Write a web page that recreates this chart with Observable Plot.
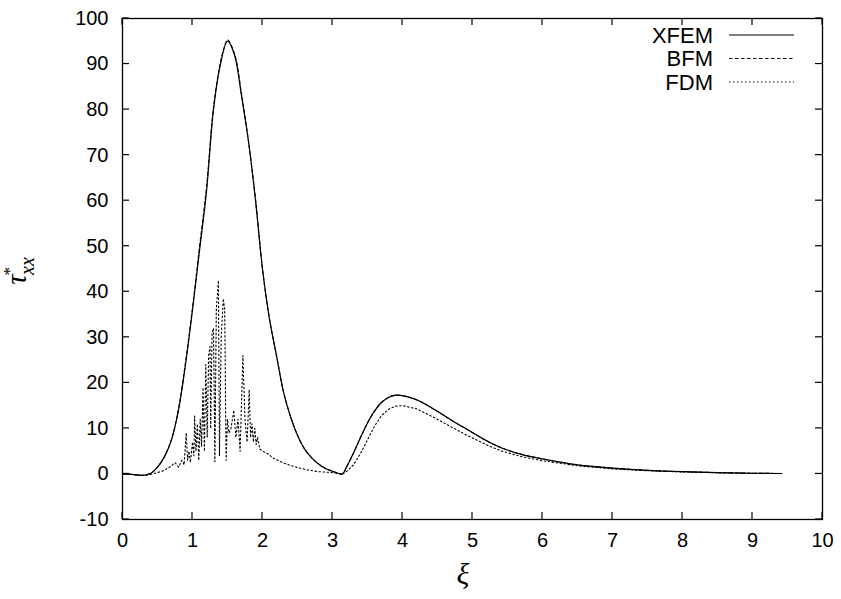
<!DOCTYPE html>
<html><head><meta charset="utf-8">
<script src="https://cdn.jsdelivr.net/npm/d3@7"></script>
<script src="https://cdn.jsdelivr.net/npm/@observablehq/plot@0.6"></script>
<style>body{margin:0;background:#fff}</style>
</head><body><div id="chart"></div>
<script>
const xTicks = [0,1,2,3,4,5,6,7,8,9,10];
const yTicks = [-10,0,10,20,30,40,50,60,70,80,90,100];

const xfemXi = [0,0.1,0.2,0.3,0.4,0.5,0.6,0.7,0.8,0.9,1.0,1.1,1.2,1.3,1.4,1.5,1.6,1.7,1.8,1.9,2.0,2.1,2.2,2.3,2.4,2.5,2.6,2.7,2.8,2.9,3.0,3.14,3.2,3.3,3.4,3.5,3.6,3.7,3.8,3.9,4.0,4.2,4.45,4.7,4.92,5.2,5.4,5.7,6.0,6.5,7.0,7.5,8.0,8.5,9.0,9.42];
const xfemTau = [0,-0.05,-0.2,-0.3,0.1,1.5,3.8,7.5,14,24,36,49,62,80,90,95,92,83,73,60,45,34,26,18,12.6,8.5,5.5,3.6,2.2,1.2,0.6,0,1.5,4.6,8,11.2,13.8,15.7,16.8,17.3,17.2,16.3,14.2,11.8,9.8,7.3,5.8,4.3,3.3,2.0,1.3,0.8,0.5,0.3,0.15,0.1];

const bfmXi = [0,0.1,0.2,0.3,0.4,0.5,0.6,0.7,0.8,0.9,1.0,1.1,1.2,1.3,1.4,1.45,1.5,1.6,1.7,1.8,1.9,2.0,2.1,2.2,2.3,2.4,2.5,2.6,2.7,2.8,2.9,3.0,3.14,3.2,3.3,3.4,3.5,3.6,3.7,3.8,3.9,4.0,4.2,4.45,4.7,4.92,5.2,5.4,5.7,6.0,6.5,7.0,7.5,8.0,8.5,9.0,9.42];
const bfmTau = [0,-0.05,-0.2,-0.3,0.1,1.5,3.8,7.6,14.3,24.5,36.5,49.8,63,80.5,90.5,93.5,95.3,92.3,83.5,73,60.5,45,34,26,18,12.6,8.5,5.5,3.6,2.2,1.2,0.6,0,1.5,4.6,8,11.2,13.8,15.7,16.8,17.3,17.2,16.3,14.2,11.8,9.8,7.3,5.8,4.3,3.3,2.0,1.3,0.8,0.5,0.3,0.15,0.1];

const fdmXi = [0,0.1,0.2,0.3,0.4,0.5,0.6,0.7,0.75,0.8,0.85,0.88,0.91,0.93,0.95,0.97,1.0,1.02,1.03,1.05,1.07,1.09,1.11,1.13,1.15,1.17,1.19,1.21,1.23,1.25,1.26,1.28,1.30,1.32,1.34,1.37,1.385,1.41,1.44,1.46,1.48,1.50,1.52,1.55,1.59,1.62,1.65,1.68,1.72,1.75,1.78,1.81,1.83,1.85,1.87,1.89,1.91,1.93,1.96,2.0,2.07,2.15,2.3,2.45,2.64,2.8,3.0,3.14,3.2,3.3,3.4,3.5,3.6,3.7,3.8,3.9,4.0,4.2,4.45,4.7,4.92,5.2,5.4,5.7,6.0,6.5,7.0,7.5,8.0,8.5,9.0,9.42];
const fdmTau = [0,-0.05,-0.2,-0.3,-0.1,0.3,0.8,1.8,2.5,1.5,3,2,9,3,5,2.5,7,4,12.7,5,11,3,12,6,19,5,24,8,26,28,10,31,32,2.7,36,42.5,4,30,38.5,36,3,12,9,10,14,8,12,5,26,12,7,18.5,8,11,7,10,6.5,8,5.5,5,4.5,3.5,2.4,1.6,0.9,0.5,0.3,0,0.5,2.0,4.5,7.5,10.5,12.8,14.2,14.9,15.0,14.3,12.4,10.3,8.5,6.4,5.1,3.8,2.9,1.8,1.1,0.7,0.45,0.25,0.15,0.1];

const seriesNames = ["XFEM","BFM","FDM"];
const dashes = [null, "3.5,2.5", "1.5,2.5"];

const xfem = xfemXi.map((x,i)=>({x, y: xfemTau[i]}));
const bfm = bfmXi.map((x,i)=>({x, y: bfmTau[i]}));
const fdm = fdmXi.map((x,i)=>({x, y: fdmTau[i]}));

const font = "'Liberation Sans', Arial, Helvetica, sans-serif";
const serif = "'Liberation Serif', 'Times New Roman', serif";
const W = 841, H = 599, ML = 122, MR = 19, MT = 18, MB = 80, TK = 7;
const xDom = [0, 10], yDom = [-10, 100];

const chart = Plot.plot({
  width: W, height: H,
  marginLeft: ML, marginRight: MR, marginTop: MT, marginBottom: MB,
  style: {fontFamily: font, fontSize: "20px", color: "#000", background: "#fff", overflow: "visible"},
  x: {domain: xDom},
  y: {domain: yDom},
  marks: [
    Plot.line(fdm, {x: "x", y: "y", stroke: "#000", strokeWidth: 1.1, strokeDasharray: dashes[2]}),
    Plot.line(bfm, {x: "x", y: "y", stroke: "#000", strokeWidth: 1.1, strokeDasharray: dashes[1], curve: "catmull-rom"}),
    Plot.line(xfem, {x: "x", y: "y", stroke: "#000", strokeWidth: 1.2, curve: "catmull-rom"}),
    Plot.axisX(xTicks, {anchor: "bottom", tickSize: 0, tickPadding: 13, label: null, tickFormat: d => String(d)}),
    Plot.axisY(yTicks, {anchor: "left", tickSize: 0, tickPadding: 14, label: null, tickFormat: d => String(d)}),
    Plot.frame({stroke: "#000", strokeWidth: 1.3})
  ]
});
document.getElementById("chart").appendChild(chart);

const svg = d3.select(chart);
const sx = chart.scale("x"), sy = chart.scale("y");
const [px0, px1] = sx.range, [py0, py1] = sy.range; // py0 = bottom, py1 = top
const tg = svg.append("g").attr("stroke", "#000").attr("stroke-width", 1.2);
xTicks.forEach(t => {
  const X = sx.apply(t);
  tg.append("line").attr("x1", X).attr("x2", X).attr("y1", py0).attr("y2", py0 - TK);
  tg.append("line").attr("x1", X).attr("x2", X).attr("y1", py1).attr("y2", py1 + TK);
});
yTicks.forEach(t => {
  const Y = sy.apply(t);
  tg.append("line").attr("y1", Y).attr("y2", Y).attr("x1", px0).attr("x2", px0 + TK);
  tg.append("line").attr("y1", Y).attr("y2", Y).attr("x1", px1).attr("x2", px1 - TK);
});

// y-axis label
const yl = svg.append("text")
  .attr("transform", "translate(26,271) rotate(-90)")
  .attr("font-family", serif)
  .attr("font-style", "italic")
  .attr("font-size", 29)
  .attr("fill", "#000");
yl.append("tspan").text("τ");
yl.append("tspan").attr("font-size", 17).attr("dy", -11).attr("dx", -1).attr("font-style", "normal").text("*");
yl.append("tspan").attr("font-size", 20).attr("dx", -8).attr("dy", 19).text("xx");
// x-axis label
svg.append("text")
  .attr("x", 463).attr("y", 584)
  .attr("text-anchor", "middle")
  .attr("font-family", serif)
  .attr("font-style", "italic")
  .attr("font-size", 30)
  .attr("fill", "#000")
  .text("ξ");
// legend
const lg = svg.append("g");
seriesNames.forEach((name, i) => {
  const cy = 35 + i * 23.5;
  lg.append("text").attr("x", 713).attr("y", cy).attr("dy", "0.36em")
    .attr("text-anchor", "end").attr("font-family", font).attr("font-size", 22)
    .attr("fill", "#000").text(name);
  lg.append("line").attr("x1", 729).attr("x2", 794).attr("y1", cy).attr("y2", cy)
    .attr("stroke", "#000").attr("stroke-width", 1.1)
    .attr("stroke-dasharray", dashes[i]);
});
</script>
</body></html>
